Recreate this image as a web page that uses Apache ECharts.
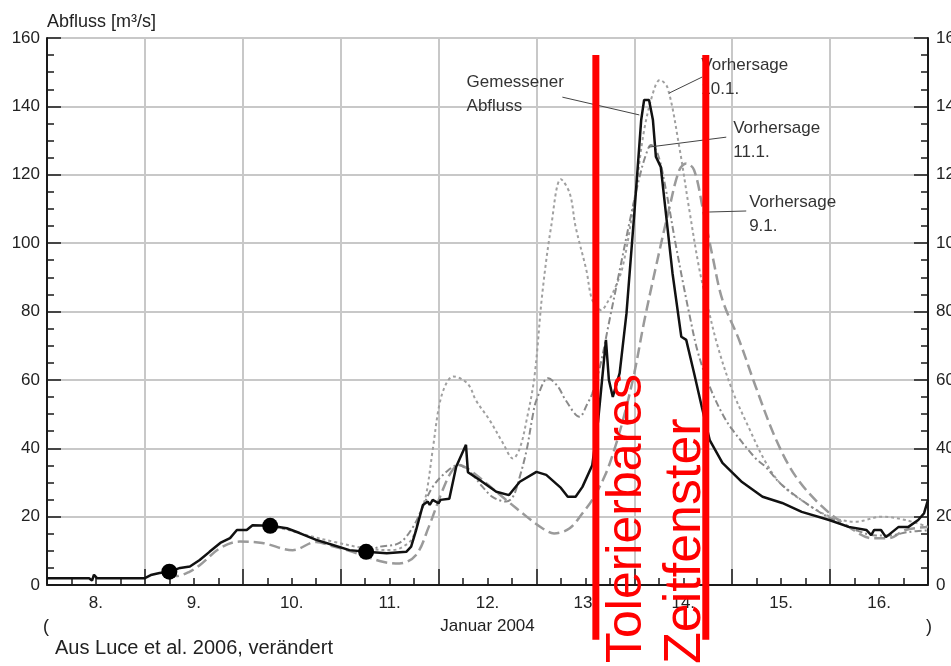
<!DOCTYPE html>
<html>
<head>
<meta charset="utf-8">
<script src="https://cdn.jsdelivr.net/npm/echarts@6/dist/echarts.min.js"></script>
<style>
  html, body { margin: 0; padding: 0; background: #fff; }
  #chart { width: 951px; height: 666px; }
</style>
</head>
<body>
<div id="chart"></div>
<script>
// x = day of January 2004 (8.0 = 8 Jan 00:00), y = discharge m³/s
const dayLabels = ['8.', '9.', '10.', '11.', '12.', '13.', '14.', '15.', '16.']
const dayLabelPos = [8.5, 9.5, 10.5, 11.5, 12.5, 13.5, 14.5, 15.5, 16.5]

const measured = [
  [8.0, 2.0], [8.43, 2.0], [8.46, 1.3], [8.48, 3.0], [8.51, 2.0], [9.0, 2.0], [9.06, 2.9],
  [9.15, 3.5], [9.25, 3.9], [9.36, 5.0], [9.46, 5.4], [9.56, 7.3], [9.66, 9.7], [9.77, 12.3],
  [9.87, 13.7], [9.94, 16.1], [10.04, 16.1], [10.1, 17.5], [10.28, 17.3], [10.45, 16.6],
  [10.58, 15.2], [10.75, 13.2], [10.92, 11.7], [11.09, 10.2], [11.26, 9.7], [11.47, 9.3],
  [11.67, 9.7], [11.72, 11.2], [11.77, 16], [11.84, 23.4], [11.89, 24.4], [11.91, 23.4],
  [11.94, 24.9], [12.0, 23.9], [12.02, 24.9], [12.11, 25.2], [12.18, 34.6], [12.28, 41],
  [12.3, 33], [12.42, 30.7], [12.59, 27.3], [12.72, 26.3], [12.83, 30.2], [13.0, 33.1],
  [13.1, 32.2], [13.25, 28.4], [13.32, 25.8], [13.4, 25.8], [13.47, 28.7], [13.57, 35],
  [13.63, 48], [13.71, 71.7], [13.74, 60], [13.78, 55], [13.85, 62], [13.92, 79.5],
  [14.0, 108.8], [14.07, 136], [14.1, 141.9], [14.15, 141.9], [14.19, 136], [14.22, 125.3],
  [14.27, 122.3], [14.39, 91.2], [14.48, 72.6], [14.53, 71.7], [14.61, 62], [14.69, 52],
  [14.77, 42.4], [14.9, 35.7], [15.1, 30.1], [15.31, 25.8], [15.51, 24], [15.71, 21.4],
  [15.99, 19], [16.19, 17], [16.37, 16.1], [16.42, 14.6], [16.45, 16.1], [16.52, 16.1],
  [16.57, 14], [16.7, 17], [16.8, 17], [16.9, 19], [16.96, 21], [17.0, 24.9]
]

const forecast91 = [
  [9.25, 3.9], [9.32, 2.6], [9.45, 3.8], [9.56, 5.8], [9.77, 10.8], [9.97, 12.7], [10.2, 12.3],
  [10.51, 10.2], [10.75, 12.6], [10.9, 11.5], [11.12, 9.7], [11.43, 6.8], [11.6, 6.3],
  [11.77, 8.8], [11.9, 17], [12.03, 26.9], [12.13, 33.1], [12.21, 35.1], [12.32, 33.6],
  [12.49, 29.7], [12.69, 24.9], [12.9, 20], [13.06, 16.6], [13.18, 15.1], [13.34, 16.6],
  [13.47, 21], [13.57, 24.9], [13.7, 32], [13.8, 40], [13.9, 50], [14.0, 62], [14.1, 77],
  [14.22, 93], [14.36, 110.6], [14.46, 121.4], [14.53, 123.3], [14.61, 121.4], [14.7, 110],
  [14.8, 96], [14.9, 83.4], [15.07, 71.7], [15.24, 58], [15.45, 42.4], [15.65, 31.7],
  [15.92, 22.9], [16.19, 17], [16.43, 13.7], [16.6, 13.7], [16.77, 16.1], [17.0, 17]
]

const forecast101 = [
  [10.28, 17.3], [10.45, 16.2], [10.65, 14.6], [10.92, 12.7], [11.26, 10.7], [11.53, 10.2],
  [11.68, 12], [11.74, 14.1], [11.8, 20], [11.87, 26], [11.94, 39.5], [12.01, 53],
  [12.08, 59], [12.15, 61], [12.25, 60], [12.32, 58], [12.38, 54.1], [12.52, 48.3],
  [12.66, 41.4], [12.76, 37], [12.83, 40], [12.9, 48.3], [12.98, 61], [13.06, 85.3],
  [13.15, 104.8], [13.25, 118.7], [13.34, 114.6], [13.4, 104.8], [13.51, 92.1],
  [13.57, 83.4], [13.66, 80.4], [13.74, 83.4], [13.78, 85.4], [13.88, 93], [14.0, 112.6],
  [14.1, 133], [14.2, 144.8], [14.26, 147.7], [14.34, 145.4], [14.46, 128], [14.56, 110],
  [14.66, 93], [14.73, 84], [14.85, 70], [15.0, 57], [15.17, 46], [15.34, 36], [15.5, 29.5],
  [15.75, 24], [16.0, 20], [16.26, 18.5], [16.53, 20], [16.77, 19], [17.0, 17]
]

const forecast111 = [
  [11.26, 9.7], [11.4, 11.2], [11.6, 12.3], [11.74, 17], [11.84, 22.9], [11.94, 28.7],
  [12.08, 33.1], [12.2, 35.1], [12.32, 33.1], [12.45, 28.7], [12.55, 25.8], [12.69, 24.4],
  [12.76, 25.8], [12.83, 31.7], [12.9, 39.5], [12.96, 49.2], [13.0, 54.1], [13.12, 60.5],
  [13.22, 58], [13.3, 54], [13.44, 49.2], [13.52, 53], [13.57, 56], [13.65, 64], [13.75, 78],
  [13.85, 92], [13.95, 106], [14.05, 119], [14.12, 126], [14.17, 128.7], [14.24, 126],
  [14.32, 116], [14.42, 100], [14.5, 88], [14.56, 79.5], [14.65, 68], [14.77, 58], [14.9, 50],
  [15.0, 45.5], [15.24, 37], [15.34, 34.6], [15.5, 29.5], [15.8, 23], [16.0, 19.6],
  [16.26, 16.1], [16.47, 14.5], [16.6, 14.5], [16.8, 15.5], [17.0, 16]
]

// forecast start times (black dots)
const startPoints = [[9.25, 3.9], [10.28, 17.3], [11.26, 9.7]]

// tolerable time window (red lines)
const windowBounds = [13.607, 14.73]

// annotations: text top-left, leader line from -> to (data coords)
const notes = [
  { text: 'Gemessener\nAbfluss', at: [12.286, 150.6], from: [13.265, 142.7], to: [14.051, 137.5] },
  { text: 'Vorhersage\n10.1.', at: [14.684, 155.6], from: [14.357, 143.9], to: [14.694, 148.6] },
  { text: 'Vorhersage\n11.1.', at: [15.01, 137.2], from: [14.153, 128.1], to: [14.939, 131.0] },
  { text: 'Vorhersage\n9.1.', at: [15.173, 115.5], from: [14.765, 109.1], to: [15.143, 109.4] }
]

const FONT = 'Liberation Sans, Arial, sans-serif'
const chart = echarts.init(document.getElementById('chart'), null, { renderer: 'canvas' })

const yAxisBase = {
  type: 'value', min: 0, max: 160, interval: 20,
  axisLine: { show: true, lineStyle: { color: '#1a1a1a', width: 2 } },
  axisTick: { show: true, inside: true, length: 14, lineStyle: { color: '#1a1a1a', width: 1.5 } },
  minorTick: { show: true, splitNumber: 4, length: 7, lineStyle: { color: '#1a1a1a', width: 1.5 } },
  axisLabel: { color: '#222', fontSize: 17, fontFamily: FONT, margin: 7 },
}

const option = {
  animation: false,
  backgroundColor: '#fff',
  grid: { left: 47, right: 23, top: 38, bottom: 81, containLabel: false, outerBoundsMode: 'none' },
  xAxis: [
    {
      type: 'value', min: 8, max: 17, interval: 1,
      axisLine: { show: true, onZero: false, lineStyle: { color: '#bdbdbd', width: 2 } },
      axisTick: { show: true, inside: true, length: 16, lineStyle: { color: '#1a1a1a', width: 1.5 } },
      minorTick: { show: true, splitNumber: 4, length: 7, lineStyle: { color: '#1a1a1a', width: 1.5 } },
      axisLabel: {
        customValues: dayLabelPos,
        formatter: v => dayLabels[Math.round(v - 8.5)],
        color: '#222', fontSize: 17, fontFamily: FONT, margin: 10,
      },
      splitLine: { show: true, lineStyle: { color: '#c8c8c8', width: 2 } },
      name: 'Januar 2004', nameLocation: 'middle', nameGap: 33,
      nameTextStyle: { color: '#222', fontSize: 17, fontFamily: FONT },
    },
    {
      type: 'value', position: 'top', min: 8, max: 17,
      axisLine: { show: true, lineStyle: { color: '#1a1a1a', width: 2 } },
      axisTick: { show: false }, axisLabel: { show: false }, splitLine: { show: false },
    },
  ],
  yAxis: [
    {
      ...yAxisBase, position: 'left',
      splitLine: { show: true, lineStyle: { color: '#c8c8c8', width: 2 } },
      name: 'Abfluss [m³/s]', nameLocation: 'end', nameGap: 7,
      nameTextStyle: { color: '#222', fontSize: 18, fontFamily: FONT, align: 'left' },
    },
    {
      ...yAxisBase, position: 'right',
      axisLabel: { ...yAxisBase.axisLabel, margin: 8 },
      splitLine: { show: false },
    },
  ],
  series: [
    {
      name: 'Vorhersage 9.1.', type: 'line', data: forecast91, smooth: 0.35,
      showSymbol: false, silent: true, z: 2,
      lineStyle: { color: '#9a9a9a', width: 2.5, type: [11, 5] },
    },
    {
      name: 'Vorhersage 10.1.', type: 'line', data: forecast101, smooth: 0.35,
      showSymbol: false, silent: true, z: 2,
      lineStyle: { color: '#a0a0a0', width: 2, type: [3, 3] },
    },
    {
      name: 'Vorhersage 11.1.', type: 'line', data: forecast111, smooth: 0.35,
      showSymbol: false, silent: true, z: 2,
      lineStyle: { color: '#8a8a8a', width: 2, type: [7, 3, 2, 3] },
    },
    {
      name: 'Gemessener Abfluss', type: 'line', data: measured,
      showSymbol: false, silent: true, z: 3,
      lineStyle: { color: '#111', width: 2.5 },
    },
    {
      name: 'Start', type: 'scatter', data: startPoints, symbolSize: 16, z: 4, silent: true,
      itemStyle: { color: '#000', opacity: 1 },
    },
  ],
}

chart.setOption(option)

function px(p) { return chart.convertToPixel({ gridIndex: 0 }, p) }

function buildGraphics() {
  const g = []
  notes.forEach(n => {
    const a = px(n.from), b = px(n.to), t = px(n.at)
    g.push({
      type: 'line', z: 50, silent: true,
      shape: { x1: a[0], y1: a[1], x2: b[0], y2: b[1] },
      style: { stroke: '#444', lineWidth: 1 },
    })
    g.push({
      type: 'text', z: 50, silent: true, x: t[0], y: t[1],
      style: {
        text: n.text, fill: '#333', font: '17px ' + FONT, lineHeight: 24,
        textAlign: 'left', textVerticalAlign: 'top',
      },
    })
  })
  const xs = windowBounds.map(v => px([v, 0])[0])
  const top = px([8, 155])[1]
  const bottom = px([8, -16])[1]
  xs.forEach(x => {
    g.push({
      type: 'line', z: 60, silent: true,
      shape: { x1: x, y1: top, x2: x, y2: bottom },
      style: { stroke: '#ff0000', lineWidth: 7 },
    })
  })
  g.push({
    type: 'text', z: 61, silent: true, x: xs[0] + 31, y: 663, rotation: Math.PI / 2,
    style: { text: 'Tolerierbares', fill: '#ff0000', font: '50px ' + FONT, textAlign: 'left', textVerticalAlign: 'middle' },
  })
  g.push({
    type: 'text', z: 61, silent: true, x: xs[1] - 20, y: 664, rotation: Math.PI / 2,
    style: { text: 'Zeitfenster', fill: '#ff0000', font: '52px ' + FONT, textAlign: 'left', textVerticalAlign: 'middle' },
  })
  // brackets around the axis title and source note
  g.push({
    type: 'text', z: 50, silent: true, x: 43, y: 627,
    style: { text: '(', fill: '#222', font: '18px ' + FONT, textVerticalAlign: 'middle' },
  })
  g.push({
    type: 'text', z: 50, silent: true, x: 926, y: 627,
    style: { text: ')', fill: '#222', font: '18px ' + FONT, textVerticalAlign: 'middle' },
  })
  g.push({
    type: 'text', z: 50, silent: true, x: 55, y: 648,
    style: { text: 'Aus Luce et al. 2006, verändert', fill: '#222', font: '20px ' + FONT, textVerticalAlign: 'middle' },
  })
  return g
}

chart.setOption({ graphic: buildGraphics() })
</script>
</body>
</html>
